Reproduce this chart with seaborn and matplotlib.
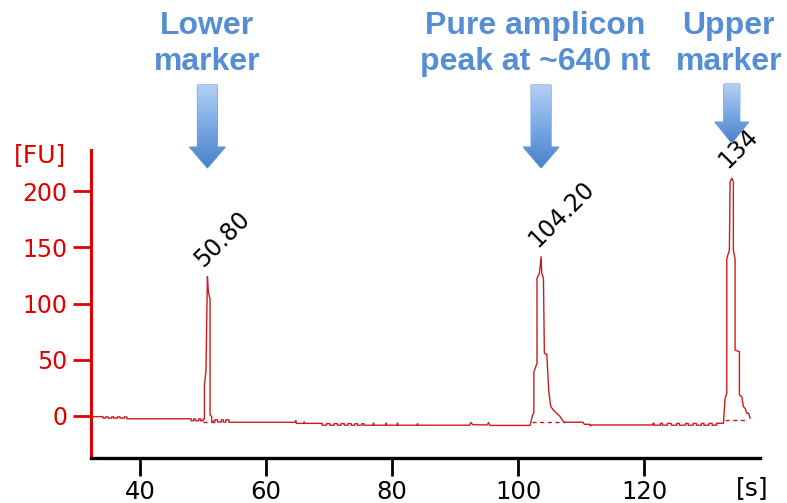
import numpy as np
import pandas as pd
import matplotlib
matplotlib.use("Agg")
import matplotlib.pyplot as plt
import seaborn as sns
from matplotlib.patches import Polygon

# ---------------- data ----------------
time_s = [32.2, 34.1, 34.1, 34.5, 34.5, 34.9, 34.9, 35.5, 35.5, 35.8, 35.8, 36.4, 36.4, 36.8, 36.8,
          37.5, 37.5, 37.9, 37.9, 48.1, 48.1, 48.5, 48.5, 48.8, 48.8, 49.3, 49.3, 49.6, 49.6, 50.0,
          50.0, 50.2, 50.2, 50.45, 50.68, 50.84, 51.1, 51.1, 51.35, 51.35, 51.9, 51.9, 52.3, 52.3,
          52.9, 52.9, 53.2, 53.2, 53.6, 53.6, 54.1, 54.1, 64.6, 64.7, 64.8, 66.0, 66.0, 66.1, 66.1,
          68.9, 68.9, 69.6, 69.6, 70.1, 70.1, 70.8, 70.8, 71.3, 71.3, 71.9, 71.9, 72.4, 72.4, 73.0,
          73.0, 73.5, 73.5, 74.1, 74.1, 74.5, 74.5, 75.2, 75.2, 75.5, 75.5, 77.0, 77.0, 77.1, 77.1,
          79.0, 79.0, 79.1, 79.1, 80.8, 80.8, 80.9, 80.9, 84.0, 84.0, 84.1, 84.1, 92.3, 92.5, 92.8,
          95.1, 95.3, 95.5, 101.9, 102.3, 102.5, 102.5, 103.0, 103.0, 103.38, 103.65, 103.76,
          104.02, 104.17, 104.56, 104.87, 105.19, 105.6, 106.67, 107.19, 107.46, 110.3, 110.5,
          111.4, 111.4, 111.6, 111.6, 121.4, 121.4, 121.6, 121.6, 122.6, 122.6, 122.9, 122.9,
          123.7, 123.7, 124.3, 124.3, 125.2, 125.2, 125.6, 125.6, 126.6, 126.6, 127.0, 127.0,
          127.8, 127.8, 128.3, 128.3, 129.1, 129.1, 129.5, 129.5, 130.3, 130.3, 130.8, 130.8,
          131.5, 131.5, 132.6, 132.86, 133.13, 133.13, 133.54, 133.65, 133.92, 134.17, 134.17,
          134.44, 134.44, 135.13, 135.13, 135.51, 135.76, 136.03, 136.30, 136.6, 136.83]
fu = [-0.6, -0.6, -1.9, -1.9, -0.8, -0.8, -1.9, -1.9, -0.8, -0.8, -1.9, -1.9, -0.8, -0.8, -1.9,
      -1.9, -0.8, -0.8, -2.5, -2.5, -4.3, -4.3, -2.6, -2.6, -4.3, -4.3, -2.6, -2.6, -4.3, -4.3,
      -2.6, -2.6, 27.6, 40.0, 124.0, 110.0, 104.0, 1.0, -0.5, -4.6, -4.6, -3.4, -3.4, -5.4,
      -5.4, -3.4, -3.4, -5.4, -5.4, -3.4, -3.4, -5.6, -5.6, -4.0, -6.6, -6.6, -5.5, -5.5, -6.6,
      -6.6, -8.2, -8.2, -6.8, -6.8, -8.2, -8.2, -6.8, -6.8, -8.2, -8.2, -6.8, -6.8, -8.2, -8.2,
      -6.8, -6.8, -8.2, -8.2, -6.8, -6.8, -8.2, -8.2, -6.8, -6.8, -8.2, -8.2, -6.5, -6.5, -8.2,
      -8.2, -6.5, -6.5, -8.2, -8.2, -6.5, -6.5, -8.2, -8.2, -7.0, -7.0, -8.2, -8.2, -5.8, -7.8,
      -8.0, -5.8, -8.4, -8.4, 1.0, 3.0, 39.0, 47.0, 122.5, 127.0, 141.7, 127.0,
      122.5, 55.8, 55.0, 21.6, 8.3, 5.3, -0.6, -5.0, -5.6, -5.6, -7.4,
      -7.4, -8.6, -8.6, -8.0, -8.0, -6.6, -6.6, -8.2, -8.2, -6.6, -6.6, -8.2,
      -8.2, -6.6, -6.6, -8.2, -8.2, -6.6, -6.6, -8.2, -8.2, -6.6, -6.6, -8.2,
      -8.2, -6.6, -6.6, -8.2, -8.2, -6.6, -6.6, -8.2, -8.2, -6.6, -6.6, -8.2,
      -8.2, -6.5, -6.5, 15.7, 20.0, 140.0, 147.7, 208.5, 211.5, 208.5, 147.7,
      140.0, 58.7, 57.2, 18.7, 17.2, 8.3, 6.9, 2.4, 2.4, -2.0]

# integration baselines under the peaks: start, end, level
base_start = [50.0, 102.2, 132.86]
base_end = [52.4, 107.5, 136.03]
base_level = [-5.6, -5.6, -3.6]

peak_times = [50.68, 103.65, 133.92]
peak_heights = [124.0, 141.7, 211.5]
peak_labels = ["50.80", "104.20", "134"]

callouts = ["Lower\nmarker", "Pure amplicon\npeak at ~640 nt", "Upper\nmarker"]

x_ticks = [40, 60, 80, 100, 120]
y_ticks = [0, 50, 100, 150, 200]

# ---------------- style ----------------
W, H = 787, 503
RED = "#e00000"
TRACE = "#c81e1e"
BLUE = "#558ed5"

sns.set_theme(style="white")
plt.rcParams["font.family"] = ["DejaVu Sans"]

fig = plt.figure(figsize=(W / 100, H / 100), dpi=100)
ax = fig.add_axes([91 / W, 45 / H, 669 / W, 308 / H])

df = pd.DataFrame({"time": time_s, "fu": fu})
sns.lineplot(data=df, x="time", y="fu", sort=False, estimator=None,
             color=TRACE, lw=1.0, ax=ax)

for x0, x1, yv in zip(base_start, base_end, base_level):
    bdf = pd.DataFrame({"time": [x0, x1], "fu": [yv, yv]})
    sns.lineplot(data=bdf, x="time", y="fu", color=TRACE, lw=1.0,
                 linestyle=(0, (3, 2.5)), ax=ax)

ax.set_xlim(32.2, 138.4)
ax.set_ylim(-37.4, 236.7)
ax.set_xticks(x_ticks)
ax.set_yticks(y_ticks)
ax.set_xlabel("")
ax.set_ylabel("")

for s in ["top", "right"]:
    ax.spines[s].set_visible(False)
ax.spines["left"].set_color(RED)
ax.spines["left"].set_linewidth(2.2)
ax.spines["bottom"].set_color("black")
ax.spines["bottom"].set_linewidth(2.4)

ax.tick_params(axis="y", colors=RED, labelcolor=RED, length=13, width=2.0,
               direction="out", labelsize=17, pad=4, left=True)
ax.tick_params(axis="x", colors="black", labelcolor="black", length=13, width=2.0,
               direction="out", labelsize=17.5, pad=3, bottom=True)

fig.text(14 / W, 1 - 155 / H, "[FU]", color=RED, fontsize=18, ha="left", va="center")
fig.text(752 / W, 1 - 488 / H, "[s]", color="black", fontsize=18, ha="center", va="center")

# peak labels
for t, h, lab in zip(peak_times, peak_heights, peak_labels):
    ax.annotate(lab, xy=(t, h), xytext=(-4, 9), textcoords="offset pixels",
                rotation=45, rotation_mode="anchor", ha="left", va="baseline",
                fontsize=17, color="black")

# overlay for callouts / arrows (pixel coords)
ov = fig.add_axes([0, 0, 1, 1], zorder=5)
ov.set_xlim(0, W)
ov.set_ylim(0, H)
ov.axis("off")
ov.patch.set_alpha(0)

text_dx = [0, -6, -3]
arrow_geom = [  # shaft half width, shaft top, head base, head half width, tip (pixels from top)
    (10, 85, 147, 18, 168),
    (10, 85, 147, 18, 168),
    (8, 84, 122, 17, 143),
]
grad = np.linspace(0, 1, 256).reshape(-1, 1)
cmap = matplotlib.colors.LinearSegmentedColormap.from_list(
    "arr", ["#4a80cc", "#7aa9e3", "#b3d0f3"])

for t, txt, dx, g in zip(peak_times, callouts, text_dx, arrow_geom):
    px = ax.transData.transform((t, 0))[0]
    ov.text(px + dx, H - 44, txt, ha="center", va="center", color=BLUE,
            fontsize=23, fontweight="bold", family="Liberation Sans",
            linespacing=1.3)
    sw, top, hb, hw, tip = g
    pts = [(px - sw, H - top), (px + sw, H - top), (px + sw, H - hb), (px + hw, H - hb),
           (px, H - tip), (px - hw, H - hb), (px - sw, H - hb)]
    poly = Polygon(pts, closed=True, facecolor="none", edgecolor="#6c9bd8", lw=0.8)
    ov.add_patch(poly)
    im = ov.imshow(grad, extent=(px - hw, px + hw, H - tip, H - top), origin="lower",
                   cmap=cmap, aspect="auto", zorder=4)
    im.set_clip_path(poly)
ov.set_xlim(0, W)
ov.set_ylim(0, H)

fig.savefig("out.png", dpi=100, facecolor="white")
